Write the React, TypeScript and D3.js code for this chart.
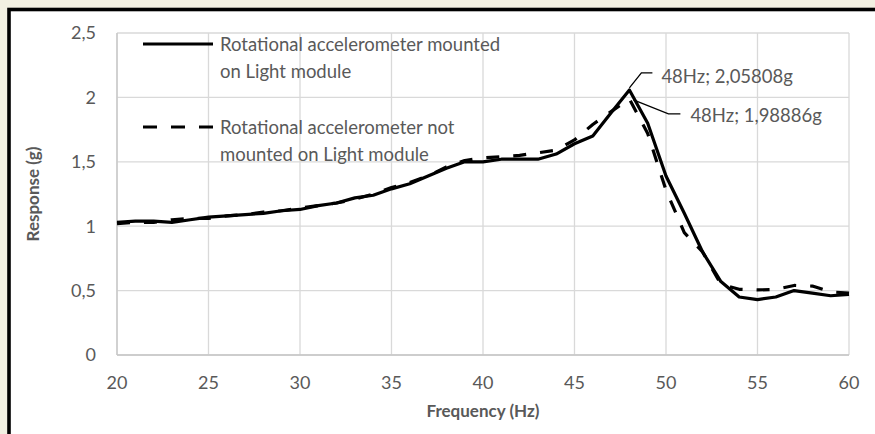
import React from "react";
import * as d3 from "d3";

const freqs = [20,21,22,23,24,25,26,27,28,29,30,31,32,33,34,35,36,37,38,39,40,41,42,43,44,45,46,47,48,49,50,51,52,53,54,55,56,57,58,59,60];
const mounted = [1.03,1.04,1.04,1.03,1.05,1.07,1.08,1.09,1.10,1.12,1.13,1.16,1.18,1.22,1.24,1.29,1.33,1.39,1.45,1.50,1.50,1.52,1.52,1.52,1.56,1.64,1.70,1.88,2.05808,1.80,1.39,1.10,0.80,0.57,0.45,0.43,0.45,0.50,0.48,0.46,0.47];
const notMounted = [1.02,1.03,1.03,1.05,1.06,1.06,1.08,1.09,1.11,1.12,1.14,1.16,1.18,1.21,1.25,1.30,1.34,1.39,1.46,1.51,1.53,1.54,1.55,1.57,1.59,1.67,1.79,1.89,1.98886,1.72,1.28,0.95,0.80,0.55,0.51,0.505,0.51,0.54,0.535,0.49,0.48];
const xTicks = [20,25,30,35,40,45,50,55,60];
const yTicks = [0,0.5,1,1.5,2,2.5];
const seriesNames = ["Rotational accelerometer mounted|on Light module", "Rotational accelerometer not|mounted on Light module"];
const peakLabels = ["48Hz; 2,05808g", "48Hz; 1,98886g"];
const peakFreq = 48;

const W = 875, H = 434;
const FONT = "Lato, 'Open Sans', sans-serif";
const GRAY = "#595959";

export default function App() {
  const x = d3.scaleLinear().domain([20, 60]).range([117, 849]);
  const y = d3.scaleLinear().domain([0, 2.5]).range([355, 33]);
  const line = d3.line<number>().x((_, i) => x(freqs[i])).y((v) => y(v));
  const fmt = (v: number) => String(v).replace(".", ",");
  const pi = freqs.indexOf(peakFreq);
  const p1 = [x(peakFreq), y(mounted[pi])];
  const p2 = [x(peakFreq), y(notMounted[pi])];

  return (
    <svg width={W} height={H} style={{ position: "fixed", left: 0, top: 0 }} fontFamily={FONT}>
      <rect x={0} y={0} width={W} height={H} fill="#f2f0e2" />
      <rect x={9} y={9.5} width={W + 50} height={H + 50} fill="#ffffff" stroke="#000" strokeWidth={3.6} />
      {yTicks.map((t) => (
        <line key={"gy" + t} x1={x(20)} x2={x(60)} y1={y(t)} y2={y(t)} stroke="#d9d9d9" strokeWidth={1.3} />
      ))}
      {xTicks.map((t) => (
        <line key={"gx" + t} x1={x(t)} x2={x(t)} y1={y(0)} y2={y(2.5)} stroke="#d9d9d9" strokeWidth={1.3} />
      ))}
      <line x1={x(20)} x2={x(20)} y1={y(0)} y2={y(2.5)} stroke="#c6c6c6" strokeWidth={1.3} />
      <line x1={x(20)} x2={x(60)} y1={y(0)} y2={y(0)} stroke="#c6c6c6" strokeWidth={1.3} />
      {yTicks.map((t) => (
        <text key={"ty" + t} x={96} y={y(t)} dy="0.35em" textAnchor="end" fontSize={18} fill={GRAY}>{fmt(t)}</text>
      ))}
      {xTicks.map((t) => (
        <text key={"tx" + t} x={x(t)} y={383} dy="0.35em" textAnchor="middle" fontSize={18} fill={GRAY}>{t}</text>
      ))}
      <text x={483} y={411} dy="0.35em" textAnchor="middle" fontSize={17} fontWeight="bold" fill={GRAY}>Frequency (Hz)</text>
      <text transform={`translate(33,194) rotate(-90)`} dy="0.35em" textAnchor="middle" fontSize={17} fontWeight="bold" fill={GRAY}>Response (g)</text>

      <path d={line(notMounted) || ""} fill="none" stroke="#000" strokeWidth={3.2} strokeDasharray="13,14" strokeLinejoin="round" />
      <path d={line(mounted) || ""} fill="none" stroke="#000" strokeWidth={3.2} strokeLinejoin="round" />

      {/* legend */}
      <line x1={143} x2={213} y1={44} y2={44} stroke="#000" strokeWidth={3.2} />
      <line x1={143} x2={213} y1={127} y2={127} stroke="#000" strokeWidth={3.2} strokeDasharray="14,14" />
      {seriesNames.map((n, i) => n.split("|").map((s, j) => (
        <text key={"lg" + i + j} x={220} y={(i === 0 ? 45 : 128) + j * 27} dy="0.35em" fontSize={18.5} fill={GRAY}>{s}</text>
      )))}

      {/* data labels */}
      <polyline points={`${p1[0]},${p1[1] - 2} ${p1[0] + 12},${p1[1] - 17} ${p1[0] + 23},${p1[1] - 17}`} fill="none" stroke="#000" strokeWidth={1.3} />
      <text x={p1[0] + 32} y={p1[1] - 13} dy="0.35em" fontSize={18.5} fill={GRAY}>{peakLabels[0]}</text>
      <polyline points={`${p2[0] + 4},${p2[1] + 1} ${p2[0] + 39},${p2[1] + 15} ${p2[0] + 51},${p2[1] + 15}`} fill="none" stroke="#000" strokeWidth={1.3} />
      <text x={p2[0] + 61} y={p2[1] + 17} dy="0.35em" fontSize={18.5} fill={GRAY}>{peakLabels[1]}</text>
    </svg>
  );
}
